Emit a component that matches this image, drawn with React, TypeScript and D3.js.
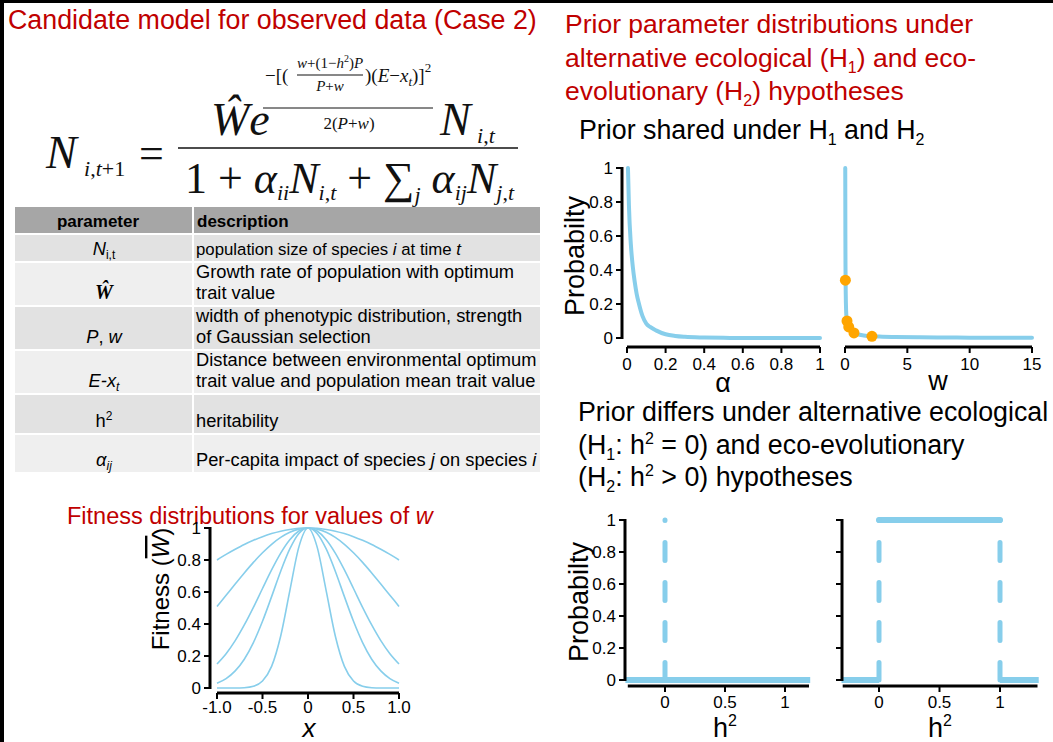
import React from "react";
import * as d3 from "d3";

const SANS = "'Liberation Sans', Arial, sans-serif";
const SERIF = "'Liberation Serif', 'Times New Roman', serif";
const RED = "#c00000";
const BLUE = "#87ceeb";
const ORANGE = "#ffa500";

// ---------- Data ----------
// Prior on alpha (shared)
const alphaX = [0.005, 0.01, 0.02, 0.03, 0.04, 0.05, 0.06, 0.08, 0.1, 0.12, 0.15, 0.2, 0.25, 0.3, 0.4, 0.5, 0.6, 0.8, 1.0];
const alphaP = [1.0, 0.78, 0.55, 0.42, 0.33, 0.26, 0.21, 0.13, 0.085, 0.065, 0.045, 0.022, 0.012, 0.007, 0.003, 0.001, 0, 0, 0];
const alphaTicks = [0, 0.2, 0.4, 0.6, 0.8, 1];
const alphaTickLabels = ["0", "0.2", "0.4", "0.6", "0.8", "1"];

// Prior on w (shared)
const wX = [0.02, 0.03, 0.04, 0.06, 0.09, 0.13, 0.16, 0.22, 0.3, 0.45, 0.72, 1.0, 1.5, 2.16, 3, 4, 6, 8, 10, 12, 15];
const wP = [1.0, 0.62, 0.42, 0.26, 0.16, 0.115, 0.1, 0.08, 0.065, 0.045, 0.03, 0.022, 0.015, 0.01, 0.008, 0.006, 0.004, 0.003, 0.002, 0.001, 0.001];
const wPointX = [0.03, 0.16, 0.3, 0.72, 2.16];
const wPointP = [0.34, 0.1, 0.065, 0.03, 0.01];
const wTicks = [0, 5, 10, 15];

const probTicks = [0, 0.2, 0.4, 0.6, 0.8, 1];
const probTickLabels = ["0", "0.2", "0.4", "0.6", "0.8", "1"];

// Prior on h2 under H1 (point mass at 0)
const h1BaseX = [-0.33, 1.21];
const h1BaseP = [0, 0];
const h1SpikeX = [0, 0];
const h1SpikeP = [0, 1];
// Prior on h2 under H2 (uniform 0..1)
const h2LeftX = [-0.31, 0];
const h2LeftP = [0, 0];
const h2TopX = [0, 1];
const h2TopP = [1, 1];
const h2RightX = [1, 1.32];
const h2RightP = [0, 0];
const h2EdgeX = [0, 1];
const h2Ticks = [0, 0.5, 1];
const h2TickLabels = ["0", "0.5", "1"];

// Fitness curves for values of w
const fitX = [-1.0, -0.9, -0.8, -0.7, -0.6, -0.5, -0.4, -0.3, -0.2, -0.1, 0, 0.1, 0.2, 0.3, 0.4, 0.5, 0.6, 0.7, 0.8, 0.9, 1.0];
const fitW1 = [0.8, 0.835, 0.867, 0.897, 0.923, 0.946, 0.965, 0.98, 0.991, 0.998, 1, 0.998, 0.991, 0.98, 0.965, 0.946, 0.923, 0.897, 0.867, 0.835, 0.8];
const fitW2 = [0.51, 0.58, 0.65, 0.719, 0.785, 0.845, 0.898, 0.941, 0.973, 0.993, 1, 0.993, 0.973, 0.941, 0.898, 0.845, 0.785, 0.719, 0.65, 0.58, 0.51];
const fitW3 = [0.15, 0.214, 0.296, 0.394, 0.504, 0.622, 0.738, 0.843, 0.927, 0.981, 1, 0.981, 0.927, 0.843, 0.738, 0.622, 0.504, 0.394, 0.296, 0.214, 0.15];
const fitW4 = [0.03, 0.059, 0.107, 0.18, 0.284, 0.417, 0.571, 0.73, 0.869, 0.966, 1, 0.966, 0.869, 0.73, 0.571, 0.417, 0.284, 0.18, 0.107, 0.059, 0.03];
const fitW5 = [0, 0, 0, 0.002, 0.011, 0.044, 0.135, 0.325, 0.607, 0.882, 1, 0.882, 0.607, 0.325, 0.135, 0.044, 0.011, 0.002, 0, 0, 0];
const fitSeries = [fitW1, fitW2, fitW3, fitW4, fitW5];
const fitXTicks = [-1, -0.5, 0, 0.5, 1];
const fitXTickLabels = ["-1.0", "-0.5", "0", "0.5", "1.0"];
const fitYTicks = [0, 0.2, 0.4, 0.6, 0.8, 1];
const fitYTickLabels = ["0", "0.2", "0.4", "0.6", "0.8", "1"];

// Parameter table
const tableParams = ["N", "W", "P, w", "E-x", "h", "α"];
const tableDesc = [
  ["population size of species i at time t"],
  ["Growth rate of population with optimum", "trait value"],
  ["width of phenotypic distribution, strength", "of Gaussian selection"],
  ["Distance between environmental optimum", "trait value and population mean trait value"],
  ["heritability"],
  ["Per-capita impact of species j on species i"],
];

// ---------- helpers ----------
type Lin = d3.ScaleLinear<number, number>;

function YAxis({ x, y, ticks, labels, fs = 17 }: { x: number; y: Lin; ticks: number[]; labels?: string[]; fs?: number }) {
  const lo = d3.min(ticks) as number;
  const hi = d3.max(ticks) as number;
  return (
    <g>
      <line x1={x} x2={x} y1={y(hi) - 1} y2={y(lo) + 1} stroke="#000" strokeWidth={3} />
      {ticks.map((t, i) => (
        <g key={i}>
          <line x1={x - 6} x2={x} y1={y(t)} y2={y(t)} stroke="#000" strokeWidth={2} />
          {labels && (
            <text x={x - 9} y={y(t)} dy="0.35em" textAnchor="end" fontSize={fs}>
              {labels[i]}
            </text>
          )}
        </g>
      ))}
    </g>
  );
}

function XAxis({ y, x, ticks, labels, from, to, fs = 17, off = 23 }: { y: number; x: Lin; ticks: number[]; labels: string[]; from: number; to: number; fs?: number; off?: number }) {
  return (
    <g>
      <line x1={x(from)} x2={x(to)} y1={y} y2={y} stroke="#000" strokeWidth={3} />
      {ticks.map((t, i) => (
        <g key={i}>
          <line x1={x(t)} x2={x(t)} y1={y} y2={y + 6} stroke="#000" strokeWidth={2} />
          <text x={x(t)} y={y + off} textAnchor="middle" fontSize={fs}>
            {labels[i]}
          </text>
        </g>
      ))}
    </g>
  );
}

function pathOf(xs: number[], ys: number[], sx: Lin, sy: Lin, curve: d3.CurveFactory = d3.curveLinear) {
  const pts = xs.map((v, i) => [v, ys[i]] as [number, number]);
  return d3
    .line<[number, number]>()
    .x((d) => sx(d[0]))
    .y((d) => sy(d[1]))
    .curve(curve)(pts) as string;
}

export default function App() {
  // Scales
  const xA = d3.scaleLinear().domain([0, 1]).range([627, 820]);
  const yA = d3.scaleLinear().domain([0, 1]).range([338, 168]);
  const xB = d3.scaleLinear().domain([0, 15]).range([845, 1032]);
  const xC = d3.scaleLinear().domain([0, 1]).range([665, 785]);
  const xD = d3.scaleLinear().domain([0, 1]).range([879, 1000]);
  const yC = d3.scaleLinear().domain([0, 1]).range([680, 520]);
  const xE = d3.scaleLinear().domain([-1, 1]).range([217, 399]);
  const yE = d3.scaleLinear().domain([0, 1]).range([688, 528]);

  const dash = "18 22";

  // table geometry
  const tX0 = 15, tX1 = 540, tSplit = 193;
  const rowTops = [235, 263, 307, 351, 395, 435];
  const rowBots = [261, 305, 349, 393, 433, 472];
  const rowFill = ["#e2e2e2", "#efefef", "#e2e2e2", "#efefef", "#e2e2e2", "#efefef"];
  const lineGap = 21.5;

  return (
    <div style={{ position: "absolute", left: 0, top: 0, width: 1053, height: 742, background: "#fff" }}>
      <svg width={1053} height={742} style={{ display: "block" }} fontFamily={SANS}>
        <rect x={0} y={0} width={1053} height={742} fill="#fff" />
        {/* frame */}
        <rect x={0} y={0} width={4} height={742} fill="#000" />
        <rect x={0} y={0} width={1053} height={3} fill="#000" />

        {/* ---------- left titles ---------- */}
        <text x={8} y={29} fontSize={26.8} fill={RED}>Candidate model for observed data (Case 2)</text>

        {/* ---------- formula ---------- */}
        <g fontFamily={SERIF} fill="#111">
          <text x={46} y={168} fontSize={46} fontStyle="italic">N</text>
          <text x={84} y={176} fontSize={22}>
            <tspan fontStyle="italic">i</tspan>,<tspan fontStyle="italic">t</tspan>+1
          </text>
          <text x={139} y={168} fontSize={44}>=</text>
          <line x1={178} x2={518} y1={148} y2={148} stroke="#111" strokeWidth={1.6} />
          {/* numerator */}
          <text x={211} y={135} fontSize={46} fontStyle="italic">Ŵe</text>
          <text x={265} y={82} fontSize={19}>−[(</text>
          <text x={330} y={68} fontSize={15} textAnchor="middle">
            <tspan fontStyle="italic">w</tspan>+(1−<tspan fontStyle="italic">h</tspan><tspan fontSize={10} dy={-6}>2</tspan><tspan dy={6}>)</tspan><tspan fontStyle="italic">P</tspan>
          </text>
          <line x1={297} x2={363} y1={75} y2={75} stroke="#111" strokeWidth={1} />
          <text x={330} y={91} fontSize={15} textAnchor="middle">
            <tspan fontStyle="italic">P</tspan>+<tspan fontStyle="italic">w</tspan>
          </text>
          <text x={365} y={82} fontSize={19}>
            )(<tspan fontStyle="italic">E</tspan>−<tspan fontStyle="italic">x</tspan><tspan fontSize={13} dy={4} fontStyle="italic">t</tspan><tspan dy={-4}>)]</tspan><tspan fontSize={13} dy={-10}>2</tspan>
          </text>
          <line x1={263} x2={433} y1={108} y2={108} stroke="#111" strokeWidth={1} />
          <text x={349} y={129} fontSize={17} textAnchor="middle">
            2(<tspan fontStyle="italic">P</tspan>+<tspan fontStyle="italic">w</tspan>)
          </text>
          <text x={440} y={135} fontSize={46} fontStyle="italic">N</text>
          <text x={477} y={143} fontSize={22}>
            <tspan fontStyle="italic">i</tspan>,<tspan fontStyle="italic">t</tspan>
          </text>
          {/* denominator */}
          <text x={185} y={193} fontSize={44} style={{ whiteSpace: "pre" }}>
            <tspan>1 + </tspan>
            <tspan fontStyle="italic">α</tspan>
            <tspan fontSize={22} dy={7} fontStyle="italic">ii</tspan>
            <tspan dy={-7} fontStyle="italic">N</tspan>
            <tspan fontSize={22} dy={7} fontStyle="italic">i</tspan>
            <tspan fontSize={22}>,</tspan>
            <tspan fontSize={22} fontStyle="italic">t</tspan>
            <tspan dy={-7}> + ∑</tspan>
            <tspan fontSize={22} dy={9} fontStyle="italic">j</tspan>
            <tspan dy={-9} fontStyle="italic"> α</tspan>
            <tspan fontSize={22} dy={7} fontStyle="italic">ij</tspan>
            <tspan dy={-7} fontStyle="italic">N</tspan>
            <tspan fontSize={22} dy={7} fontStyle="italic">j</tspan>
            <tspan fontSize={22}>,</tspan>
            <tspan fontSize={22} fontStyle="italic">t</tspan>
          </text>
        </g>

        {/* ---------- table ---------- */}
        <g fontSize={18.3}>
          <rect x={tX0} y={207} width={tX1 - tX0} height={26} fill="#a6a6a6" />
          {rowTops.map((t, i) => (
            <rect key={i} x={tX0} y={t} width={tX1 - tX0} height={rowBots[i] - t} fill={rowFill[i]} />
          ))}
          <line x1={tSplit} x2={tSplit} y1={207} y2={472} stroke="#fff" strokeWidth={2} />
          <text x={98} y={227} textAnchor="middle" fontWeight="bold" fontSize={17}>parameter</text>
          <text x={197} y={227} fontWeight="bold" fontSize={17}>description</text>
          {tableDesc.map((lines, i) =>
            lines.map((s, j) => (
              <text key={i + "-" + j} x={196} y={rowBots[i] - 6 - (lines.length - 1 - j) * lineGap} fontSize={i === 0 ? 16.8 : 18.3}>
                {i === 0 ? (
                  <>population size of species <tspan fontStyle="italic">i</tspan> at time <tspan fontStyle="italic">t</tspan></>
                ) : i === 5 ? (
                  <>Per-capita impact of species <tspan fontStyle="italic">j</tspan> on species <tspan fontStyle="italic">i</tspan></>
                ) : (
                  s
                )}
              </text>
            ))
          )}
          {/* parameter symbols */}
          <text x={104} y={rowBots[0] - 6} textAnchor="middle">
            <tspan fontStyle="italic">{tableParams[0]}</tspan><tspan fontSize={12} dy={4}>i,t</tspan>
          </text>
          <text x={104} y={rowBots[1] - 6} textAnchor="middle" fontFamily={SERIF} fontWeight="bold" fontStyle="italic" fontSize={20}>
            Ŵ
          </text>
          <text x={104} y={rowBots[2] - 6} textAnchor="middle">
            <tspan fontStyle="italic">P</tspan>, <tspan fontStyle="italic">w</tspan>
          </text>
          <text x={104} y={rowBots[3] - 6} textAnchor="middle">
            <tspan fontStyle="italic">{tableParams[3]}</tspan><tspan fontSize={12} dy={4} fontStyle="italic">t</tspan>
          </text>
          <text x={104} y={rowBots[4] - 6} textAnchor="middle">
            {tableParams[4]}<tspan fontSize={12} dy={-7}>2</tspan>
          </text>
          <text x={104} y={rowBots[5] - 6} textAnchor="middle">
            <tspan fontStyle="italic">{tableParams[5]}</tspan><tspan fontSize={12} dy={4} fontStyle="italic">ij</tspan>
          </text>
        </g>

        {/* ---------- fitness chart ---------- */}
        <text x={67} y={524} fontSize={23.5} fill={RED}>
          Fitness distributions for values of <tspan fontStyle="italic">w</tspan>
        </text>
        {fitSeries.map((s, i) => (
          <path key={i} d={pathOf(fitX, s, xE, yE, d3.curveMonotoneX)} fill="none" stroke={BLUE} strokeWidth={1.6} />
        ))}
        <YAxis x={210} y={yE} ticks={fitYTicks} labels={fitYTickLabels} />
        <XAxis y={693} x={xE} ticks={fitXTicks} labels={fitXTickLabels} from={-1} to={1} off={20} />
        <text transform="translate(169,589) rotate(-90)" textAnchor="middle" fontSize={24}>
          Fitness (<tspan fontStyle="italic" style={{ textDecoration: "overline" }}>W</tspan>)
        </text>
        <text x={309} y={737} textAnchor="middle" fontSize={26} fontStyle="italic">x</text>

        {/* ---------- right column titles ---------- */}
        <g fontSize={26.5} fill={RED}>
          <text x={565} y={33}>Prior parameter distributions under</text>
          <text x={565} y={67}>
            alternative ecological (H<tspan fontSize={16} dy={6}>1</tspan><tspan dy={-6}>) and eco-</tspan>
          </text>
          <text x={565} y={100}>
            evolutionary (H<tspan fontSize={16} dy={6}>2</tspan><tspan dy={-6}>) hypotheses</tspan>
          </text>
        </g>
        <text x={579} y={139} fontSize={26.8}>
          Prior shared under H<tspan fontSize={16} dy={6}>1</tspan><tspan dy={-6}> and H</tspan><tspan fontSize={16} dy={6}>2</tspan>
        </text>

        {/* ---------- alpha chart ---------- */}
        <path d={pathOf(alphaX, alphaP, xA, yA, d3.curveMonotoneX)} fill="none" stroke={BLUE} strokeWidth={4} strokeLinecap="round" />
        <YAxis x={622} y={yA} ticks={probTicks} labels={probTickLabels} />
        <XAxis y={347} x={xA} ticks={alphaTicks} labels={alphaTickLabels} from={0} to={1} />
        <text transform="translate(584,256) rotate(-90)" textAnchor="middle" fontSize={27}>Probabilty</text>
        <text x={723} y={392} textAnchor="middle" fontSize={27}>α</text>

        {/* ---------- w chart ---------- */}
        <path d={pathOf(wX, wP, xB, yA, d3.curveMonotoneX)} fill="none" stroke={BLUE} strokeWidth={4} strokeLinecap="round" />
        {wPointX.map((v, i) => (
          <circle key={i} cx={xB(v)} cy={yA(wPointP[i])} r={5.5} fill={ORANGE} />
        ))}
        <XAxis y={347} x={xB} ticks={wTicks} labels={wTicks.map(String)} from={0} to={15} />
        <text x={938} y={390} textAnchor="middle" fontSize={27}>w</text>

        {/* ---------- second subtitle ---------- */}
        <g fontSize={26.8}>
          <text x={578} y={421}>Prior differs under alternative ecological</text>
          <text x={578} y={454}>
            (H<tspan fontSize={16} dy={6}>1</tspan><tspan dy={-6}>: h</tspan><tspan fontSize={16} dy={-10}>2</tspan><tspan dy={10}> = 0) and eco-evolutionary</tspan>
          </text>
          <text x={578} y={486}>
            (H<tspan fontSize={16} dy={6}>2</tspan><tspan dy={-6}>: h</tspan><tspan fontSize={16} dy={-10}>2</tspan><tspan dy={10}> &gt; 0) hypotheses</tspan>
          </text>
        </g>

        {/* ---------- h2 chart H1 ---------- */}
        <path d={pathOf(h1BaseX, h1BaseP, xC, yC)} fill="none" stroke={BLUE} strokeWidth={6} />
        <path d={pathOf(h1SpikeX, h1SpikeP, xC, yC)} fill="none" stroke={BLUE} strokeWidth={5} strokeDasharray={dash} strokeDashoffset={0.6} strokeLinecap="round" />
        <YAxis x={625} y={yC} ticks={probTicks} labels={probTickLabels} />
        <XAxis y={686} x={xC} ticks={h2Ticks} labels={h2TickLabels} from={-0.31} to={1.2} off={22} />
        <text transform="translate(588,602) rotate(-90)" textAnchor="middle" fontSize={27}>Probabilty</text>
        <text x={725} y={737} textAnchor="middle" fontSize={27}>
          h<tspan fontSize={16} dy={-11}>2</tspan>
        </text>

        {/* ---------- h2 chart H2 ---------- */}
        <path d={pathOf(h2LeftX, h2LeftP, xD, yC)} fill="none" stroke={BLUE} strokeWidth={6} />
        <path d={pathOf(h2TopX, h2TopP, xD, yC)} fill="none" stroke={BLUE} strokeWidth={6} strokeLinecap="round" />
        <path d={pathOf(h2RightX, h2RightP, xD, yC)} fill="none" stroke={BLUE} strokeWidth={6} />
        {h2EdgeX.map((v, i) => (
          <path key={i} d={pathOf([v, v], [0, 1], xD, yC)} fill="none" stroke={BLUE} strokeWidth={5} strokeDasharray={dash} strokeDashoffset={0.6} strokeLinecap="round" />
        ))}
        <YAxis x={842} y={yC} ticks={probTicks} />
        <XAxis y={686} x={xD} ticks={h2Ticks} labels={h2TickLabels} from={-0.3} to={1.31} off={22} />
        <text x={940} y={737} textAnchor="middle" fontSize={27}>
          h<tspan fontSize={16} dy={-11}>2</tspan>
        </text>
      </svg>
    </div>
  );
}
